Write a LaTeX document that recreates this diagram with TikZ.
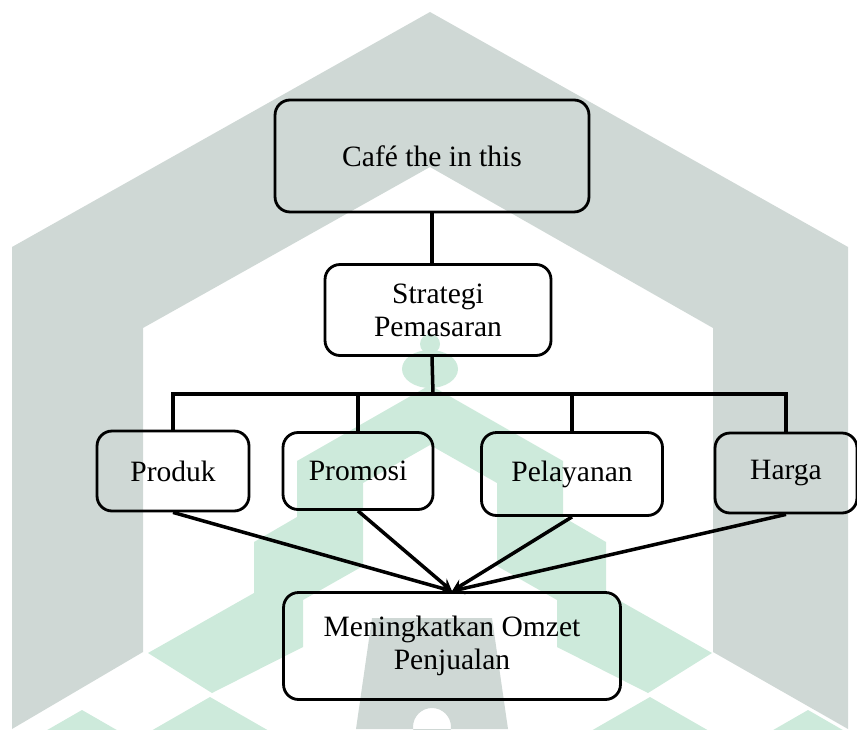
\documentclass[tikz,border=0pt]{standalone}
\usepackage{fontspec}
\setmainfont{Liberation Serif}
\usepackage{tikz}
\usetikzlibrary{arrows,shapes,calc,positioning}
\definecolor{grisMarca}{RGB}{207,216,213}
\definecolor{verdeMarca}{RGB}{205,234,219}
\tikzstyle{caja}  =[draw, rounded corners=0.3cm, line width=1.6pt,
                    align=center, inner sep=0pt,
                    font=\fontsize{16.8}{18.8}\selectfont]
\tikzstyle{linea} =[line width=2pt]
\tikzstyle{flecha}=[->, >=stealth, line width=2pt]

\begin{document}
\begin{tikzpicture}[x=0.02cm, y=-0.02cm]
    \useasboundingbox (0,0) rectangle (857,729);

        % marca de agua
        \begin{scope}[]
            \fill[grisMarca] (430,12) -- (12,247) -- (12,729) -- (143,652) -- (143,328)
                -- (430,167) -- (713,328) -- (713,652) -- (848,729) -- (848,247) -- cycle;
            \fill[grisMarca, even odd rule] (372,618) -- (492,618) -- (508,729) -- (356,729) -- cycle
                (432,727) circle [radius=19];
            \fill[verdeMarca] (430,344) circle [radius=10];
            \fill[verdeMarca] (430,369) ellipse [x radius=28, y radius=19];
            \fill[verdeMarca] (430,385) -- (297,461) -- (297,517) -- (254,542) -- (254,593)
                -- (148,653) -- (212,693) -- (303,647) -- (303,600) -- (363,566) -- (363,483)
                -- (430,445) -- (497,483) -- (497,566) -- (557,600) -- (557,647) -- (648,693)
                -- (712,653) -- (606,593) -- (606,542) -- (563,517) -- (563,461) -- cycle;
            \foreach \x/\y in {82/710,210/697,650/697,808/710}
                \fill[verdeMarca] (\x,\y) -- (\x+80,\y+46) -- (\x,\y+92) -- (\x-80,\y+46) -- cycle;
        \end{scope}

        \begin{scope}[]
            \draw (432,156) node (cafe) [caja, minimum width=6.28cm, minimum height=2.24cm] {Café the in this};
            \draw (438,310) node (strategi) [caja, minimum width=4.52cm, minimum height=1.82cm] {Strategi\\Pemasaran};
            \draw (173,471) node (produk) [caja, minimum width=3.04cm, minimum height=1.60cm] {Produk};
            \draw (358,471) node (promosi) [caja, minimum width=3.00cm, minimum height=1.54cm] {Promosi};
            \draw (572,474) node (pelayanan) [caja, minimum width=3.62cm, minimum height=1.66cm] {Pelayanan};
            \draw (786,473) node (harga) [caja, minimum width=2.84cm, minimum height=1.60cm] {Harga};
            \draw (452,646) node (omzet) [caja, minimum width=6.74cm, minimum height=2.14cm] {Meningkatkan Omzet\\Penjualan};
            \coordinate (bus) at (433,394);

            \draw [linea] (cafe.south) to (cafe.south |- strategi.north);
            \draw [linea] (strategi.south -| cafe.south) to (bus);
            \draw [linea] (produk.north) |- (bus) -| (harga.north);
            \foreach \i in {promosi,pelayanan}
                \draw [linea] (\i.north |- bus) to (\i.north);
            \foreach \i in {produk,promosi,pelayanan,harga}
                \draw [flecha] (\i.south) to (omzet.north);
        \end{scope}

    \end{tikzpicture}
\end{document}
